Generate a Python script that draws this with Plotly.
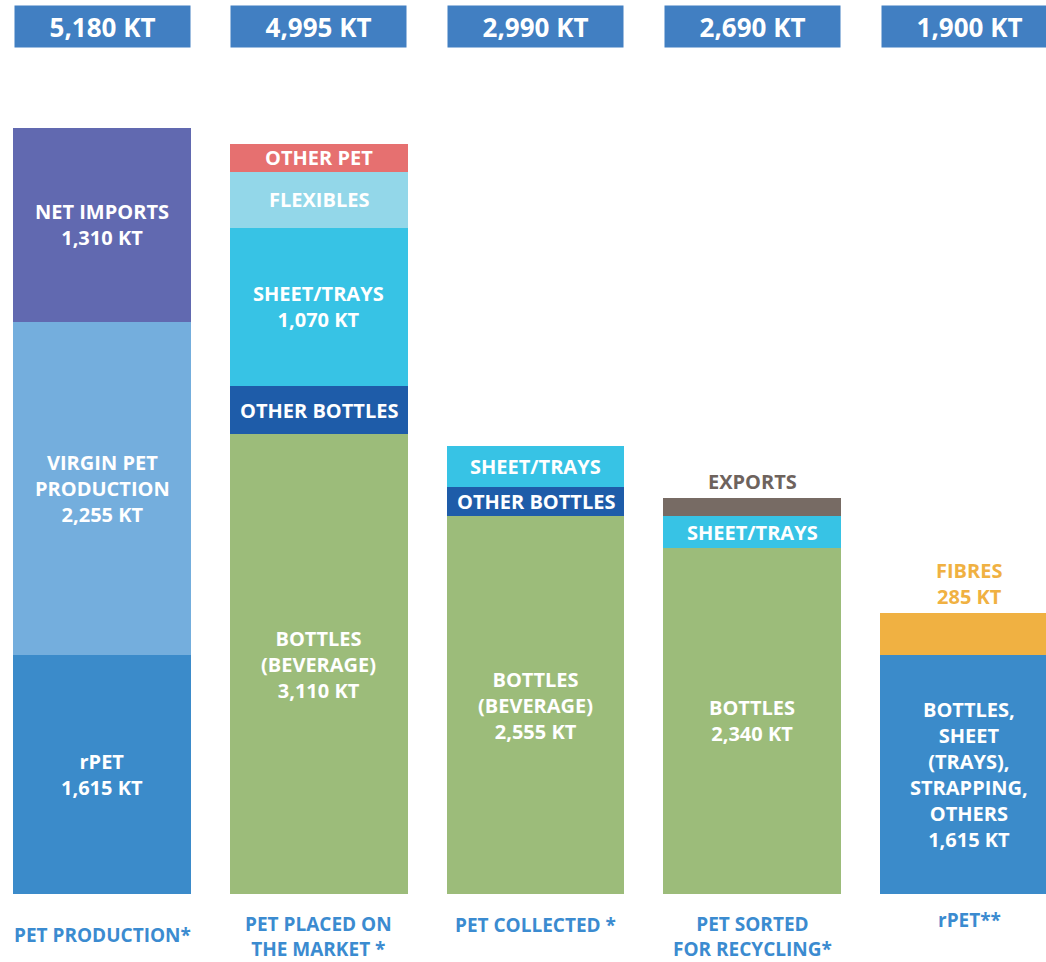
import plotly.graph_objects as go

# ---------------- data ----------------
stages = ["PET PRODUCTION*", "PET PLACED ON<br>THE MARKET *", "PET COLLECTED *",
          "PET SORTED<br>FOR RECYCLING*", "rPET**"]
totals = ["5,180 KT", "4,995 KT", "2,990 KT", "2,690 KT", "1,900 KT"]
x_pos = [0, 1, 2, 3, 4]

# stacked layers, bottom to top (KT)
layer1_vals = [1615, 3110, 2555, 2340, 1615]
layer1_labels = ["rPET<br>1,615 KT", "BOTTLES<br>(BEVERAGE)<br>3,110 KT",
                 "BOTTLES<br>(BEVERAGE)<br>2,555 KT", "BOTTLES<br>2,340 KT",
                 "BOTTLES,<br>SHEET<br>(TRAYS),<br>STRAPPING,<br>OTHERS<br>1,615 KT"]
layer1_place = ["in", "in", "in", "in", "in"]

layer2_vals = [2255, 325, 200, 215, 285]
layer2_labels = ["VIRGIN PET<br>PRODUCTION<br>2,255 KT", "OTHER BOTTLES", "OTHER BOTTLES",
                 "SHEET/TRAYS", "FIBRES<br>285 KT"]
layer2_place = ["in", "in", "in", "in", "above"]

layer3_vals = [1310, 1070, 275, 120, None]
layer3_labels = ["NET IMPORTS<br>1,310 KT", "SHEET/TRAYS<br>1,070 KT", "SHEET/TRAYS", "EXPORTS", ""]
layer3_place = ["in", "in", "in", "above", ""]

layer4_vals = [None, 380, None, None, None]
layer4_labels = ["", "FLEXIBLES", "", "", ""]
layer4_place = ["", "in", "", "", ""]

layer5_vals = [None, 190, None, None, None]
layer5_labels = ["", "OTHER PET", "", "", ""]
layer5_place = ["", "in", "", "", ""]

# ---------------- styles ----------------
C_RPET = "#3b8bca"
C_VIRGIN = "#74aedd"
C_IMPORT = "#6169b0"
C_GREEN = "#9cbc7a"
C_OBOT = "#1e5ca9"
C_SHEET = "#37c3e5"
C_FLEX = "#93d7e9"
C_OPET = "#e67070"
C_EXP = "#776b64"
C_FIB = "#f0b142"

layer1_colors = [C_RPET, C_GREEN, C_GREEN, C_GREEN, C_RPET]
layer2_colors = [C_VIRGIN, C_OBOT, C_OBOT, C_SHEET, C_FIB]
layer3_colors = [C_IMPORT, C_SHEET, C_SHEET, C_EXP, C_EXP]
layer4_colors = [C_FLEX] * 5
layer5_colors = [C_OPET] * 5

above_colors = {"EXPORTS": "#6e635d", "FIBRES<br>285 KT": C_FIB}

FONT = "Open Sans"
W, H = 1046, 962
BAR_W = 0.821

layers = [
    (layer1_vals, layer1_labels, layer1_place, layer1_colors),
    (layer2_vals, layer2_labels, layer2_place, layer2_colors),
    (layer3_vals, layer3_labels, layer3_place, layer3_colors),
    (layer4_vals, layer4_labels, layer4_place, layer4_colors),
    (layer5_vals, layer5_labels, layer5_place, layer5_colors),
]

fig = go.Figure()
annotations = []
cum = [0.0] * 5
for vals, labels, places, colors in layers:
    fig.add_trace(go.Bar(
        x=x_pos, y=vals, width=BAR_W,
        marker=dict(color=colors, line=dict(width=0)),
        hoverinfo="skip", showlegend=False,
    ))
    for i, v in enumerate(vals):
        if v is None:
            continue
        base = cum[i]
        top = base + v
        if places[i] == "in":
            annotations.append(dict(
                x=x_pos[i], y=base + v / 2, xref="x", yref="y",
                text=labels[i], showarrow=False, yanchor="middle",
                font=dict(family=FONT, size=20, color="white", weight=700),
            ))
        elif places[i] == "above":
            annotations.append(dict(
                x=x_pos[i], y=top, xref="x", yref="y",
                text=labels[i], showarrow=False, yanchor="bottom", yshift=1,
                font=dict(family=FONT, size=20, color=above_colors.get(labels[i], "#666"), weight=700),
            ))
        cum[i] = top

# totals boxes at the top
for i, t in enumerate(totals):
    annotations.append(dict(
        x=x_pos[i], y=1 - 26.5 / H, xref="x", yref="paper",
        text=t, showarrow=False, yanchor="middle",
        width=173, height=39, bgcolor="#417fc2",
        font=dict(family=FONT, size=26, color="white", weight=700),
    ))

# stage labels at the bottom
stage_y_px = [935, 936, 925, 936, 920]
for i, s in enumerate(stages):
    annotations.append(dict(
        x=x_pos[i], y=1 - stage_y_px[i] / H, xref="x", yref="paper",
        text=s, showarrow=False, yanchor="middle",
        font=dict(family=FONT, size=19, color="#3b8bd0", weight=700),
    ))

# axis mapping: bar centres at 102 px + 216.75 px per column, zero line at 894 px
px_per_col = 216.75
x0 = -102 / px_per_col
x1 = x0 + W / px_per_col
px_per_kt = 766 / 5180
y1 = 894 / px_per_kt
y0 = -(H - 894) / px_per_kt

fig.update_layout(
    width=W, height=H,
    barmode="stack",
    margin=dict(l=0, r=0, t=0, b=0),
    paper_bgcolor="white", plot_bgcolor="white",
    xaxis=dict(range=[x0, x1], visible=False, fixedrange=True),
    yaxis=dict(range=[y0, y1], visible=False, fixedrange=True),
    annotations=annotations,
    font=dict(family=FONT),
)

fig.write_html("out.html", config={"displayModeBar": False},
               post_script="document.body.style.margin='0';")
